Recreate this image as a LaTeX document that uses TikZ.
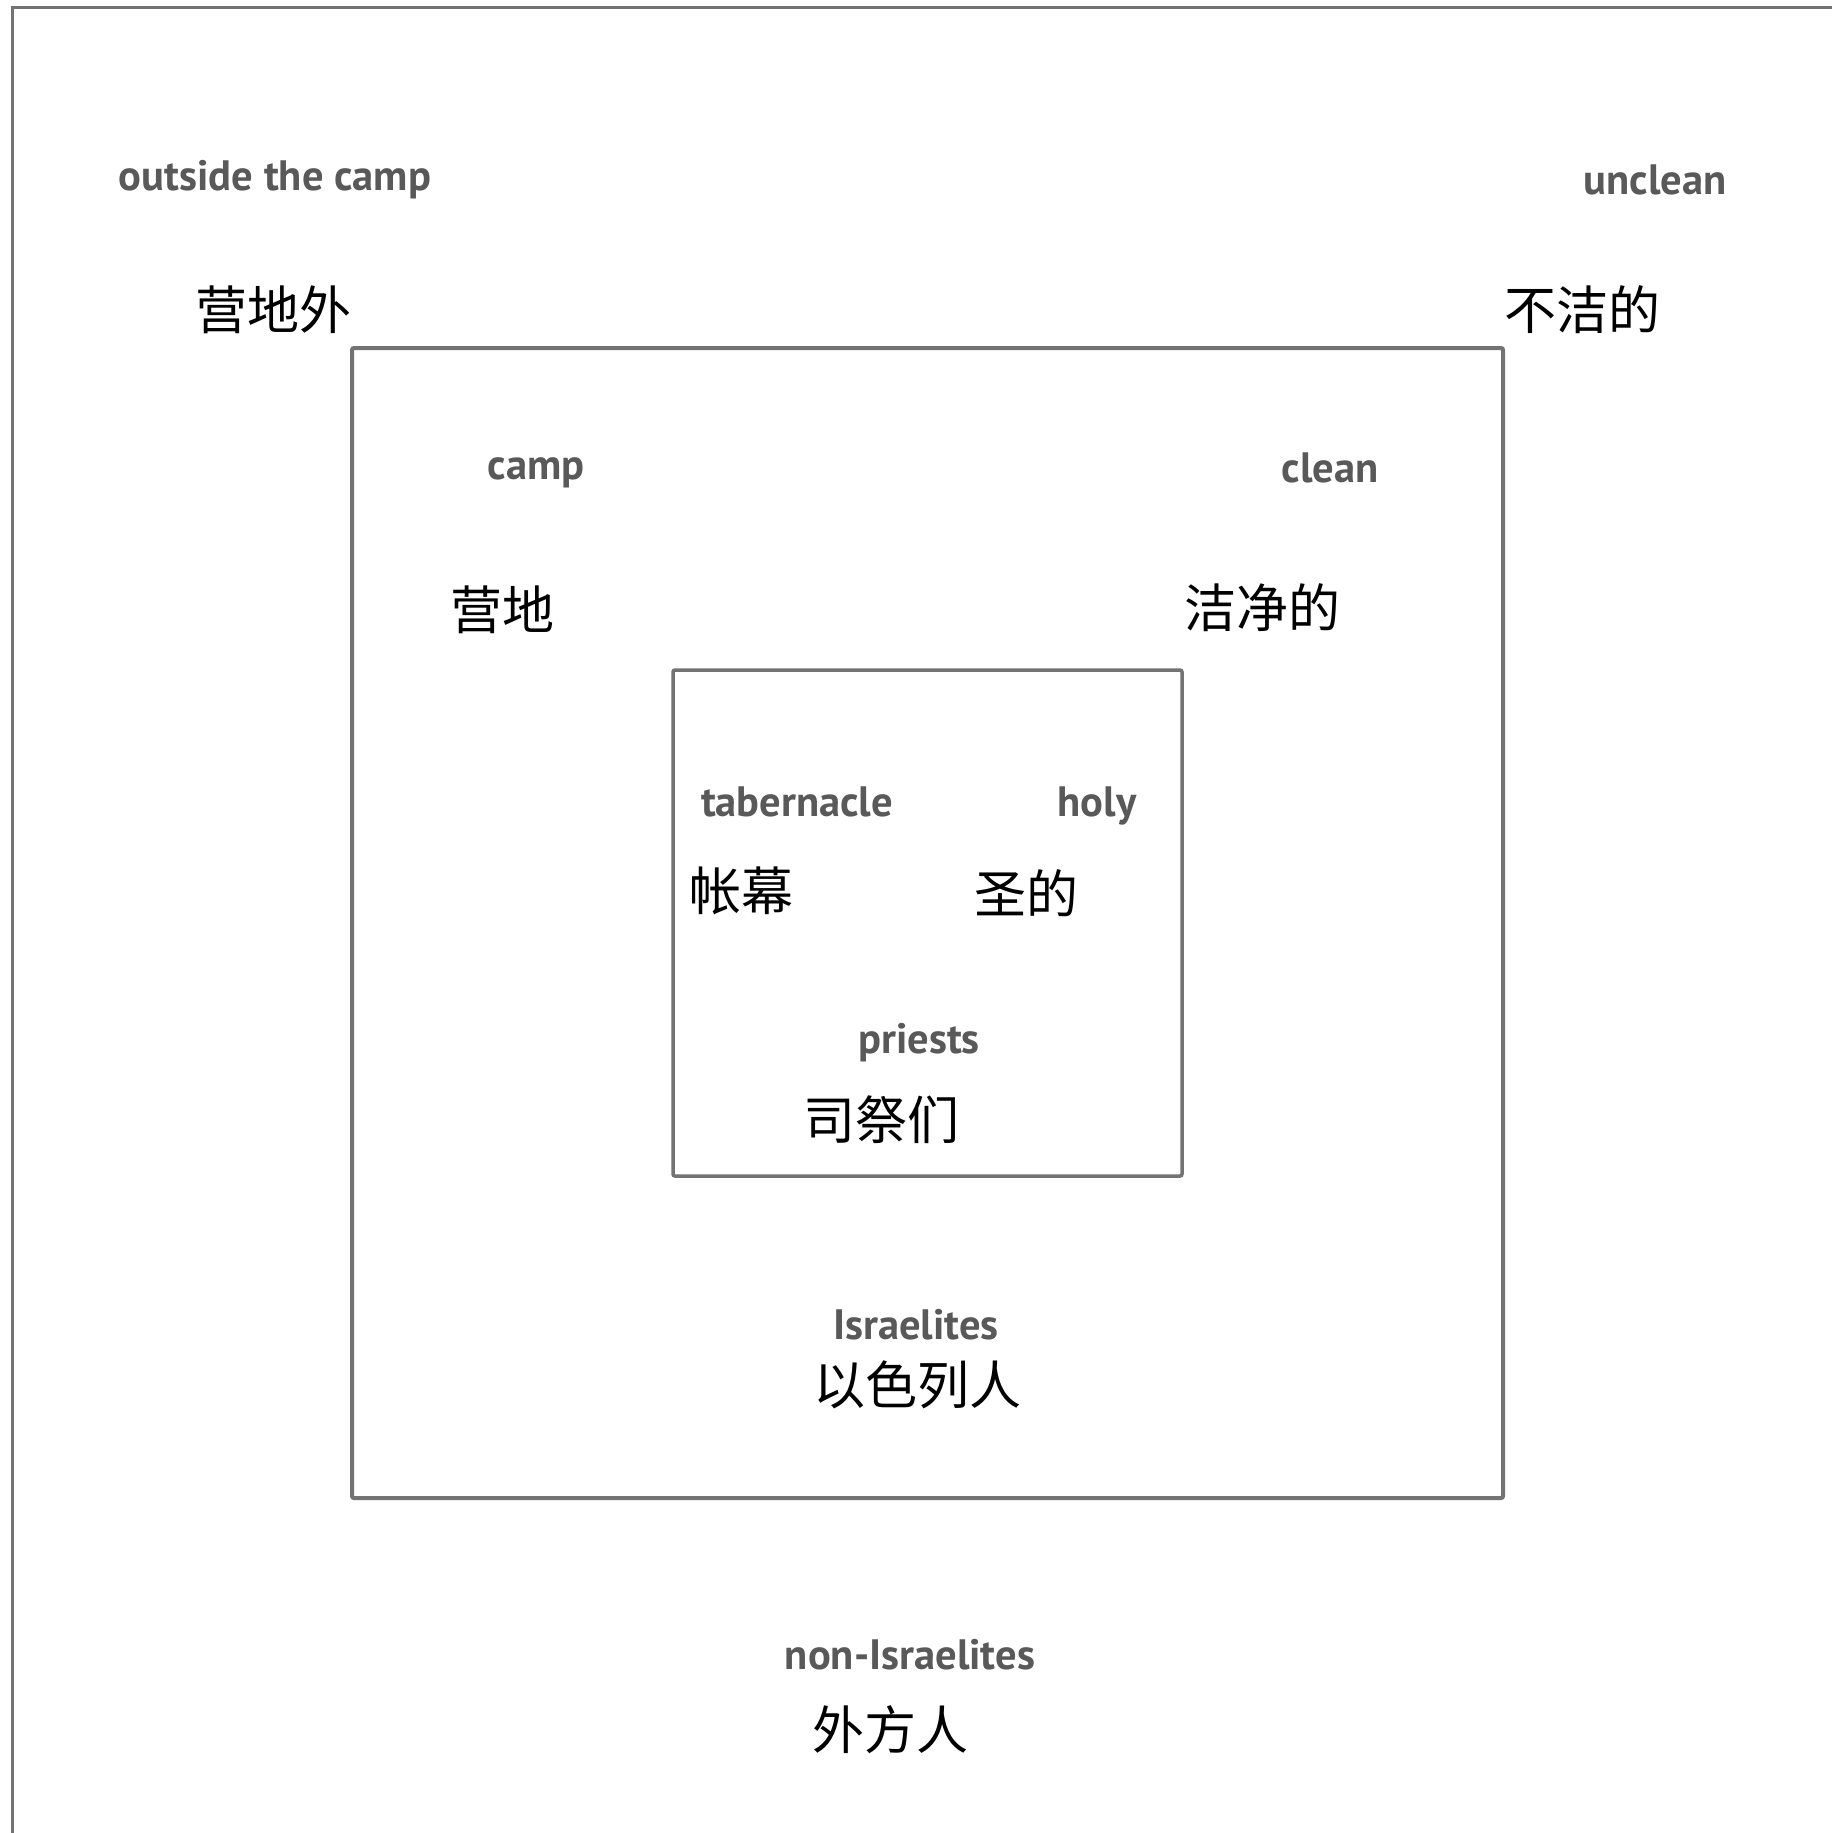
\documentclass[tikz,border=0pt]{standalone}
\usepackage{fontspec}
\setmainfont{PT Sans}
\newfontfamily\cjk{Noto Sans CJK SC}
\begin{document}
\begin{tikzpicture}[x=1pt,y=-1pt,
  en/.style={font=\bfseries\fontsize{42.5}{42.5}\selectfont, text=black!65, inner sep=0pt},
  zh/.style={font=\cjk\fontsize{52}{52}\selectfont, text=black, inner sep=0pt},
  boxline/.style={draw=black!55, line width=3.5pt, rounded corners=2pt, inner sep=0pt}]
\useasboundingbox (0,0) rectangle (1831,1833);
\fill[white] (0,0) rectangle (1831,1833);
% outer region (cut off at right and bottom)
\coordinate (obot) at (12,1845);
\coordinate (otl) at (12,8);
\coordinate (otr) at (1845,8);
\draw[black!55, line width=3pt] (obot) -- (otl) -- (otr);
% boxes
\node[boxline, line width=4pt, minimum width=1151pt, minimum height=1150pt] (campbox) at (927.5,923) {};
\node[boxline, minimum width=509pt, minimum height=506pt] (tabbox) at (927.5,923) {};
% outside labels
\node[en] (outside) at (275,180) {outside the camp};
\node[zh] (outsidezh) at (273,310) {营地外};
\node[en] (unclean) at (1655,180) {unclean};
\node[zh] (uncleanzh) at (1582,310) {不洁的};
% camp labels
\node[en] (camp) at (536,473) {camp};
\node[zh] (campzh) at (502,610) {营地};
\node[en] (clean) at (1330,468) {clean};
\node[zh] (cleanzh) at (1262,608) {洁净的};
% tabernacle labels
\node[en] (tab) at (797,802) {tabernacle};
\node[en] (holy) at (1097,806) {holy};
\node[zh] (tabzh) at (741,891) {帐幕};
\node[zh] (holyzh) at (1026,893) {圣的};
\node[en] (priests) at (919,1043) {priests};
\node[zh] (priestszh) at (881,1120) {司祭们};
% people
\node[en] (isr) at (916,1325) {Israelites};
\node[zh] (isrzh) at (917,1385) {以色列人};
\node[en] (nonisr) at (910,1655) {non-Israelites};
\node[zh] (nonisrzh) at (890,1730) {外方人};
\end{tikzpicture}
\end{document}
